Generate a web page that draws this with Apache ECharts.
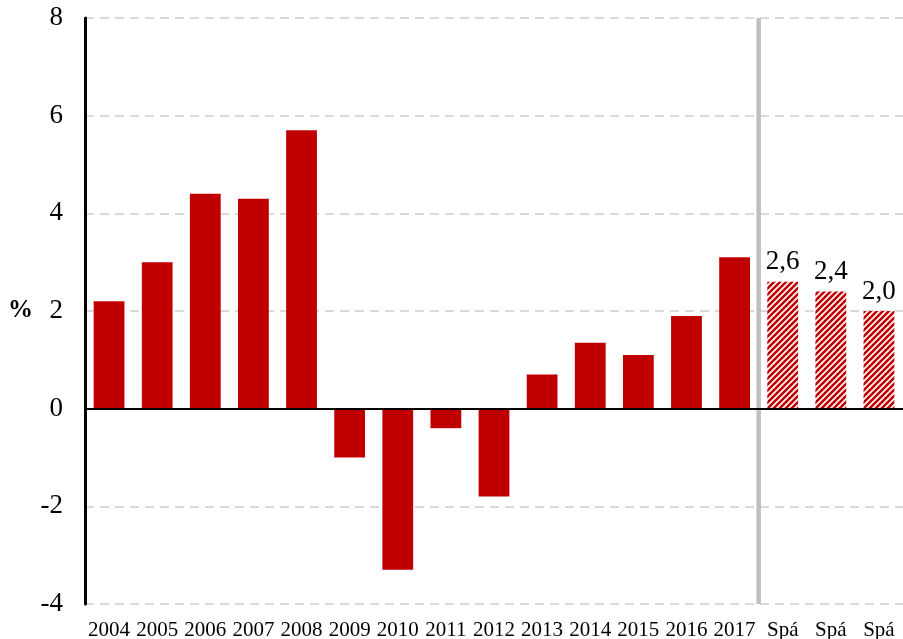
<!DOCTYPE html>
<html>
<head>
<meta charset="utf-8">
<script src="https://cdn.jsdelivr.net/npm/echarts@6/dist/echarts.min.js"></script>
<style>
  html, body { margin: 0; padding: 0; background: #fff; }
  #chart { width: 903px; height: 639px; }
</style>
</head>
<body>
<div id="chart"></div>
<script>
const categories = ["2004", "2005", "2006", "2007", "2008", "2009", "2010", "2011", "2012", "2013", "2014", "2015", "2016", "2017", "Spá", "Spá", "Spá"];
const actualValues = [2.2, 3.0, 4.4, 4.3, 5.7, -1.0, -3.3, -0.4, -1.8, 0.7, 1.35, 1.1, 1.9, 3.1];
const forecastValues = [2.6, 2.4, 2.0];
const yTicks = [-4, -2, 0, 2, 4, 6, 8];

const RED = "#c00000";
const FONT = "'Liberation Serif', 'DejaVu Serif', serif";

// hatch pattern for the forecast bars
function makeHatch() {
  const s = 6;
  const c = document.createElement("canvas");
  c.width = s;
  c.height = s;
  const ctx = c.getContext("2d");
  ctx.fillStyle = "#fff";
  ctx.fillRect(0, 0, s, s);
  ctx.strokeStyle = RED;
  ctx.lineWidth = 2.6;
  ctx.beginPath();
  ctx.moveTo(-1, s + 1); ctx.lineTo(s + 1, -1);
  ctx.moveTo(-2, 2); ctx.lineTo(2, -2);
  ctx.moveTo(s - 2, s + 2); ctx.lineTo(s + 2, s - 2);
  ctx.stroke();
  return c;
}
const hatch = { image: makeHatch(), repeat: "repeat" };

const barData = actualValues
  .map((v) => ({ value: v }))
  .concat(
    forecastValues.map((v) => ({
      value: v,
      itemStyle: { color: hatch },
      label: { show: true },
    }))
  );

const chart = echarts.init(document.getElementById("chart"));
chart.setOption({
  animation: false,
  grid: { left: 85, right: 0, top: 18, bottom: 35, outerBoundsMode: "none", containLabel: false },
  xAxis: {
    type: "category",
    data: categories,
    axisLine: { onZero: false, show: false },
    axisTick: { show: false },
    axisLabel: {
      color: "#000",
      fontFamily: FONT,
      fontSize: 21,
      margin: 16,
      interval: 0,
    },
  },
  yAxis: {
    type: "value",
    min: yTicks[0],
    max: yTicks[yTicks.length - 1],
    interval: 2,
    name: "%",
    nameLocation: "middle",
    nameRotate: 0,
    nameGap: 52,
    nameTextStyle: { color: "#000", fontFamily: FONT, fontSize: 25, fontWeight: "bold" },
    axisLine: { show: true, lineStyle: { color: "#000", width: 3 } },
    axisTick: { show: false },
    axisLabel: {
      color: "#000",
      fontFamily: FONT,
      fontSize: 27,
      margin: 22,
    },
    splitLine: {
      show: true,
      lineStyle: { color: "#d9d9d9", width: 2, type: [9, 6] },
    },
  },
  series: [
    {
      type: "bar",
      data: barData,
      barWidth: "64%",
      itemStyle: { color: RED },
      label: {
        show: false,
        position: "top",
        distance: 6,
        color: "#000",
        fontFamily: FONT,
        fontSize: 27,
        formatter: (p) => p.value.toFixed(1).replace(".", ","),
      },
      markLine: {
        silent: true,
        symbol: "none",
        label: { show: false },
        lineStyle: { color: "#000", width: 2, type: "solid" },
        data: [{ yAxis: 0 }],
      },
    },
  ],
});

// grey separator between actual years and the forecasts, placed through the axis scales
const lastActual = actualValues.length - 1;
const xA = chart.convertToPixel({ xAxisIndex: 0 }, lastActual);
const xB = chart.convertToPixel({ xAxisIndex: 0 }, lastActual + 1);
const yTop = chart.convertToPixel({ yAxisIndex: 0 }, yTicks[yTicks.length - 1]);
const yBot = chart.convertToPixel({ yAxisIndex: 0 }, yTicks[0]);
const xSep = (xA + xB) / 2;
chart.setOption({
  graphic: [
    {
      type: "line",
      silent: true,
      z: 0,
      shape: { x1: xSep, y1: yTop, x2: xSep, y2: yBot },
      style: { stroke: "#bfbfbf", lineWidth: 4.5 },
    },
  ],
});
</script>
</body>
</html>
